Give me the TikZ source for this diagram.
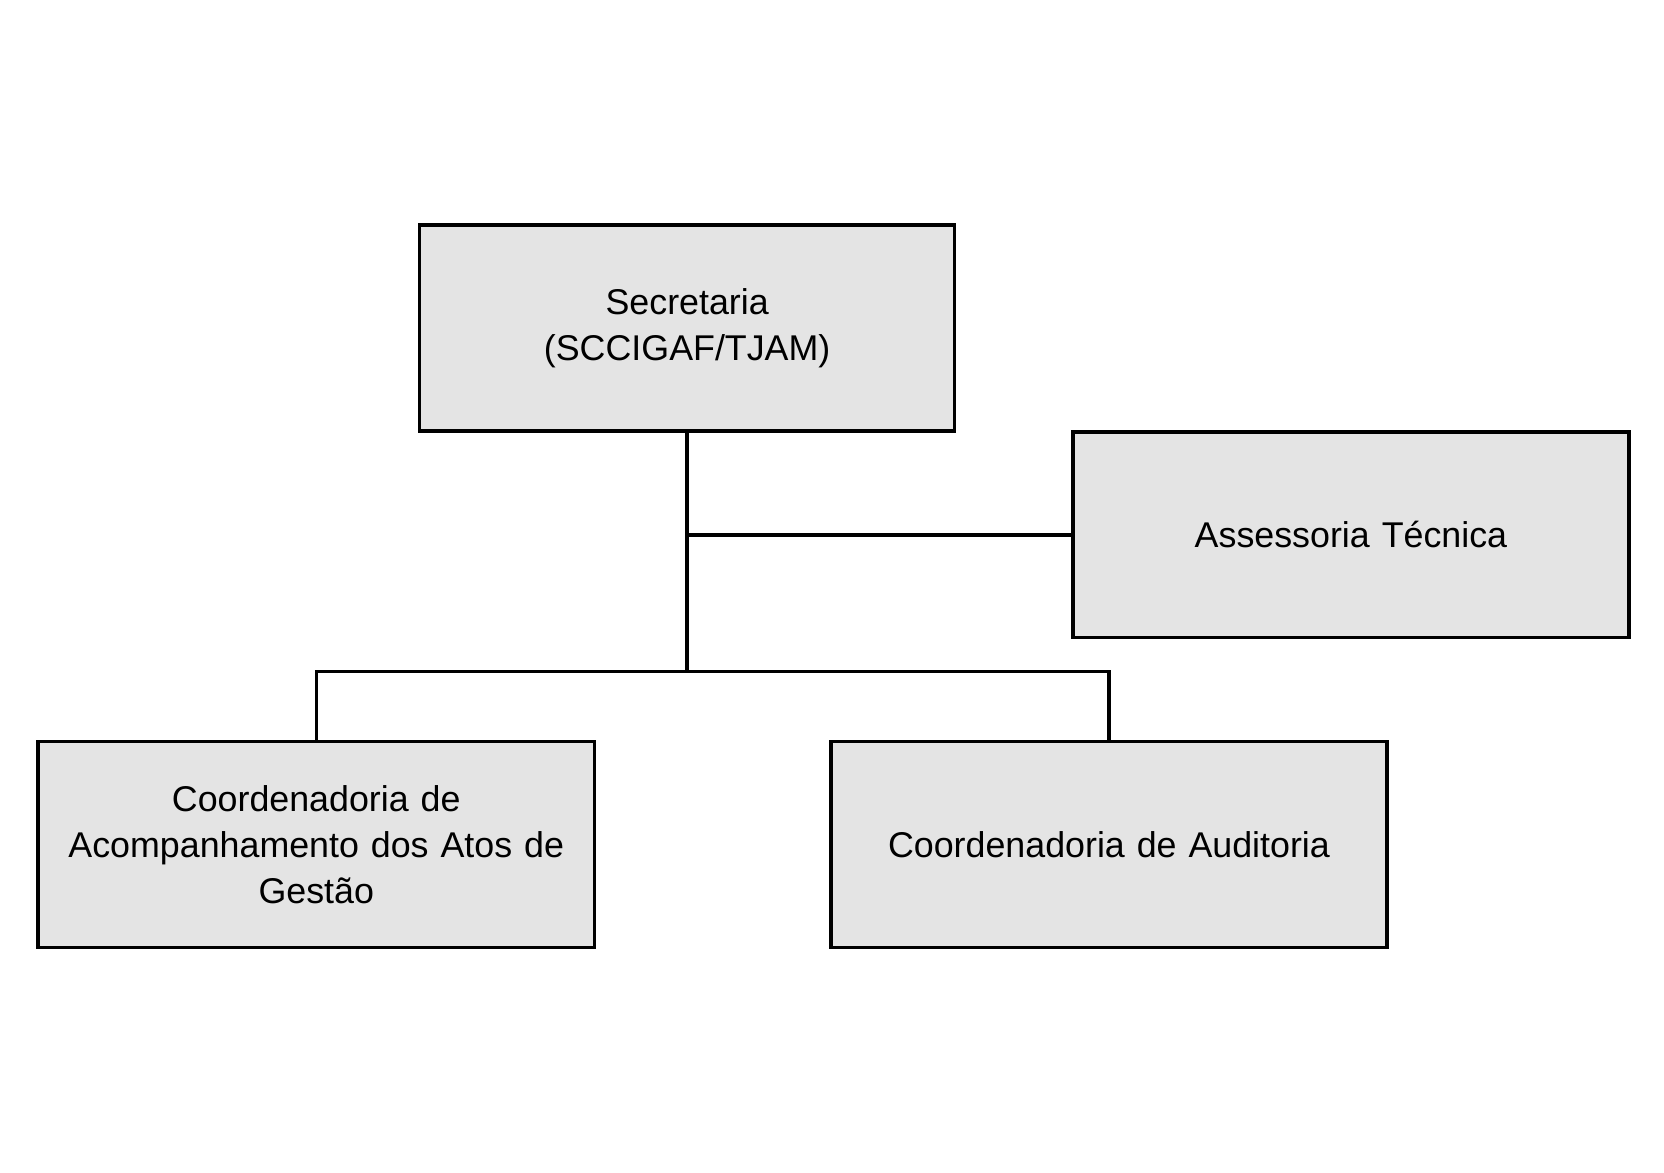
\documentclass[tikz,border=0pt]{standalone}
\usepackage{fontspec}
\setmainfont{Liberation Sans}
\usetikzlibrary{positioning}
\definecolor{boxgray}{RGB}{228, 228, 228}

\begin{document}
\begin{tikzpicture}[
    unitbox/.style={draw=black, fill=boxgray, line width=0.9pt,
        minimum width=5.2cm, minimum height=1.94cm, align=center,
        inner sep=2pt, text width=5.1cm,
        font=\fontsize{9.6}{12.4}\selectfont},
    link/.style={black, line width=0.9pt}
]
    % Canvas
    \useasboundingbox (0, 0) rectangle (15.68, -11.05);

    % Units
    \node[unitbox, minimum width=5.03cm, text width=4.9cm] (sec) at (6.475, -3.09) {Secretaria\\(SCCIGAF/TJAM)};
    \node[unitbox] (ass) at (12.73, -5.04) {Assessoria Técnica};
    \node[unitbox] (acomp) at (2.98, -7.96) {Coordenadoria de\\Acompanhamento dos Atos de\\Gestão};
    \node[unitbox] (aud) at (10.45, -7.96) {Coordenadoria de Auditoria};

    % Junction
    \coordinate (split) at (sec.south |- 0, -6.33);

    % Links
    \draw[link] (sec.south) -- (split);
    \draw[link] (sec.south |- ass.west) -- (ass.west);
    \draw[link] (split) -| (acomp.north);
    \draw[link] (split) -| (aud.north);
\end{tikzpicture}
\end{document}
